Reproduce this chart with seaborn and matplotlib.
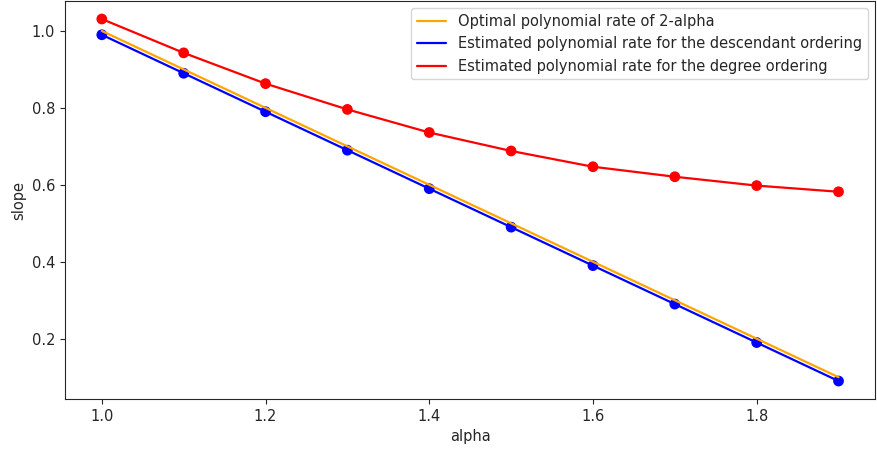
import numpy as np
import pandas as pd
import matplotlib
matplotlib.use("Agg")
import matplotlib.pyplot as plt
import seaborn as sns

# ── Data ──
alpha = [1.0, 1.1, 1.2, 1.3, 1.4, 1.5, 1.6, 1.7, 1.8, 1.9]
optimal = [1.0, 0.9, 0.8, 0.7, 0.6, 0.5, 0.4, 0.3, 0.2, 0.1]
descendant = [0.99, 0.89, 0.79, 0.69, 0.59, 0.49, 0.39, 0.29, 0.19, 0.09]
degree = [1.031, 0.943, 0.863, 0.796, 0.736, 0.688, 0.647, 0.621, 0.598, 0.582]

sns.set_style("ticks")
plt.rcParams['font.family'] = ['DejaVu Sans']

fig = plt.figure(figsize=(8.78, 4.51), dpi=100)
ax = fig.add_axes([0.074, 0.115, 0.923, 0.883])

sns.lineplot(x=alpha, y=optimal, color="orange", linewidth=1.6,
             label="Optimal polynomial rate of 2-alpha", ax=ax)
sns.lineplot(x=alpha, y=descendant, color="blue", linewidth=1.6,
             label="Estimated polynomial rate for the descendant ordering", ax=ax)
sns.scatterplot(x=alpha, y=descendant, color="blue", s=60, edgecolor="none", ax=ax)
sns.lineplot(x=alpha, y=degree, color="red", linewidth=1.6,
             label="Estimated polynomial rate for the degree ordering", ax=ax)
sns.scatterplot(x=alpha, y=degree, color="red", s=60, edgecolor="none", ax=ax)

ax.set_xlabel("alpha", fontsize=10.5)
ax.set_ylabel("slope", fontsize=10.5)
ax.tick_params(labelsize=10.5)
ax.set_xticks([1.0, 1.2, 1.4, 1.6, 1.8])
ax.set_yticks([0.2, 0.4, 0.6, 0.8, 1.0])
ax.legend(loc="upper right", fontsize=10.5)

fig.savefig("out.png", dpi=100)
